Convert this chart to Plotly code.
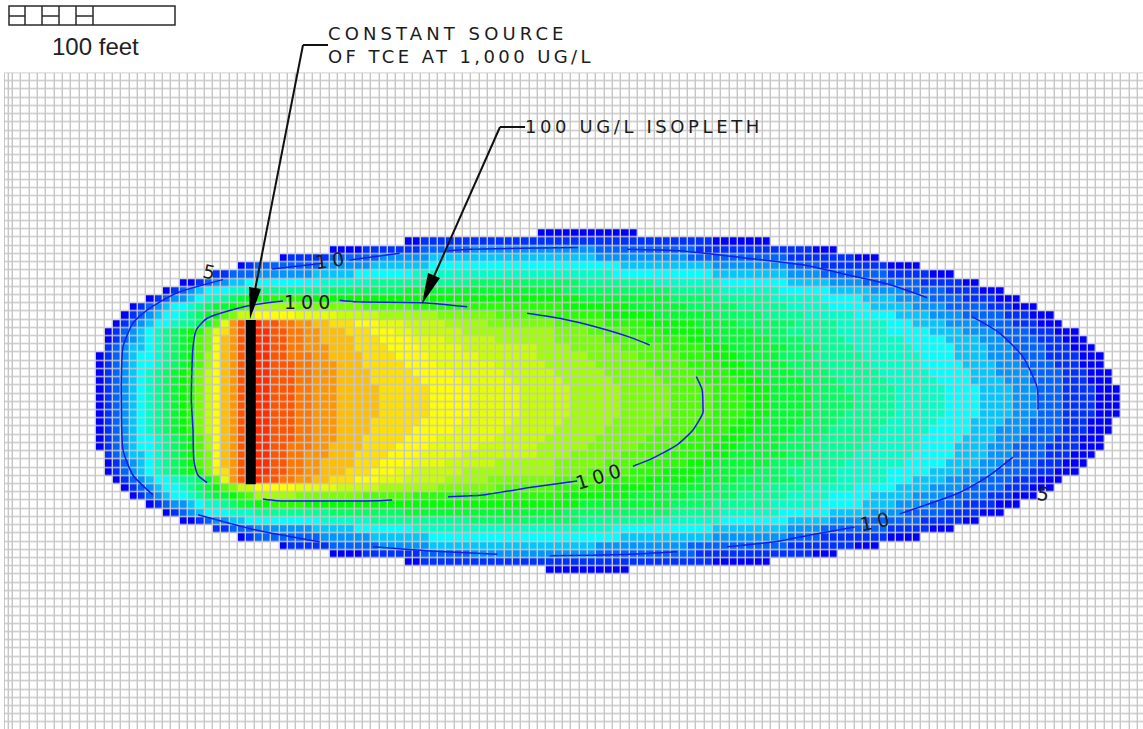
import plotly.graph_objects as go

# Grid: column and row edges, in model cells (1 cell = 5 feet)
COLUMN_EDGES = [-0.96, -0.48] + list(range(0, 137))
ROW_EDGES = list(range(0, 81))

# Concentration bands, darkest blue to red
BAND_COLOURS = [
    "rgb(0,0,255)", "rgb(0,50,255)", "rgb(0,100,255)", "rgb(0,150,255)", "rgb(0,200,255)", "rgb(0,255,255)",
    "rgb(0,255,200)", "rgb(0,255,150)", "rgb(0,255,100)", "rgb(0,255,50)", "rgb(0,255,0)", "rgb(40,255,0)",
    "rgb(80,255,0)", "rgb(120,255,0)", "rgb(160,255,0)", "rgb(200,255,0)", "rgb(230,255,0)", "rgb(255,255,0)",
    "rgb(255,225,0)", "rgb(255,190,0)", "rgb(255,150,0)", "rgb(255,120,0)", "rgb(255,85,0)", "rgb(255,45,0)",
]

# Upper half of the plume, rows 19-39: column at which each band begins
BAND_START = [
    [63],
    [47, 49],
    [38, 42, 49, 55],
    [32, 33, 38, 44, 50],
    [27, 28, 29, 37, 43, 50],
    [24, 24, 26, 29, 36, 41, 48],
    [20, 22, 23, 24, 26, 28, 37, 43, 55],
    [18, 19, 20, 21, 22, 23, 26, 29, 38, 47],
    [16, 17, 18, 19, 21, 22, 23, 25, 26, 27, 29, 31],
    [14, 15, 16, 17, 18, 19, 21, 22, 23, 24, 26, 27, 28, 29, 29],
    [13, 14, 15, 16, 17, 18, 20, 21, 22, 23, 24, 25, 25, 26, 27, 27, 29, 29],
    [12, 13, 14, 15, 16, 17, 19, 20, 22, 23, 24, 24, 24, 25, 25, 25, 25, 26, 26, 26, 26, 27, 27, 28],
    [11, 12, 13, 14, 15, 16, 17, 18, 19, 20, 21, 22, 23, 23, 24, 24, 24, 25, 25, 26, 26, 27, 27, 28],
    [11, 12, 13, 14, 15, 16, 17, 18, 19, 20, 21, 22, 22, 23, 24, 24, 24, 24, 25, 25, 26, 27, 27, 28],
    [11, 11, 12, 13, 14, 16, 17, 18, 19, 20, 21, 22, 22, 23, 24, 24, 24, 24, 25, 25, 26, 27, 27, 28],
    [10, 11, 12, 13, 14, 15, 17, 18, 19, 20, 21, 22, 22, 23, 23, 24, 24, 24, 25, 25, 26, 27, 27, 28],
    [10, 11, 12, 13, 14, 15, 17, 18, 19, 20, 21, 22, 22, 23, 23, 24, 24, 24, 25, 25, 26, 27, 27, 28],
    [10, 11, 12, 13, 14, 15, 16, 17, 18, 19, 20, 21, 22, 22, 23, 23, 24, 24, 25, 25, 26, 27, 27, 28],
    [10, 11, 12, 13, 14, 15, 16, 17, 18, 19, 20, 21, 22, 22, 23, 23, 24, 24, 25, 25, 26, 27, 27, 28],
    [10, 11, 12, 13, 14, 15, 16, 17, 18, 19, 20, 21, 22, 22, 23, 23, 24, 24, 25, 25, 26, 27, 27, 28],
    [10, 11, 12, 13, 14, 15, 16, 17, 18, 19, 20, 21, 22, 22, 23, 23, 24, 24, 25, 25, 26, 27, 27, 28],
]

# Same rows: column at which each band ends
BAND_END = [
    [75],
    [91, 84],
    [99, 96, 82, 70],
    [104, 101, 93, 81, 70],
    [109, 105, 97, 93, 84, 73],
    [113, 110, 105, 97, 93, 84, 72],
    [116, 114, 109, 102, 98, 93, 85, 77, 68],
    [119, 116, 112, 107, 103, 98, 92, 85, 79, 66],
    [121, 118, 114, 110, 106, 102, 97, 91, 84, 79, 68, 35],
    [123, 120, 117, 112, 108, 103, 98, 93, 87, 81, 74, 66, 48, 42, 34],
    [125, 122, 119, 114, 110, 106, 101, 95, 90, 84, 77, 71, 65, 58, 51, 44, 39, 34],
    [126, 123, 120, 116, 112, 108, 105, 99, 94, 87, 82, 76, 71, 65, 57, 52, 47, 44, 41, 38, 36, 34, 32, 30],
    [128, 125, 122, 118, 114, 110, 105, 99, 93, 89, 83, 78, 74, 69, 65, 54, 48, 46, 43, 40, 37, 35, 33, 31],
    [129, 126, 123, 119, 116, 112, 107, 100, 95, 91, 84, 81, 76, 71, 65, 58, 52, 48, 44, 41, 37, 35, 33, 31],
    [130, 127, 124, 120, 117, 113, 108, 101, 97, 93, 86, 83, 78, 73, 67, 63, 54, 49, 45, 41, 38, 35, 33, 31],
    [131, 128, 124, 120, 117, 113, 109, 102, 96, 92, 87, 84, 80, 75, 69, 63, 56, 50, 46, 42, 38, 36, 33, 31],
    [131, 128, 125, 121, 118, 114, 109, 103, 97, 93, 88, 85, 81, 76, 70, 64, 58, 51, 47, 42, 39, 36, 34, 31],
    [132, 129, 126, 122, 118, 115, 110, 104, 98, 94, 89, 86, 82, 77, 71, 65, 59, 53, 48, 43, 39, 36, 34, 31],
    [132, 129, 126, 122, 119, 115, 111, 105, 99, 95, 90, 87, 83, 78, 72, 66, 60, 54, 49, 43, 39, 36, 34, 31],
    [133, 130, 126, 123, 120, 116, 112, 106, 100, 96, 91, 88, 84, 79, 73, 67, 61, 55, 50, 44, 39, 36, 34, 31],
    [133, 130, 126, 123, 120, 116, 112, 106, 101, 96, 91, 88, 84, 79, 73, 67, 61, 55, 50, 44, 39, 36, 34, 31],
]
FIRST_PLUME_ROW = 19
LAST_PLUME_ROW = 60          # the plume is symmetric about the source centre line
LAST_ROW_SPAN = (64, 74)     # the one row that differs from its mirror

SOURCE_COLUMN = (27.93, 29.13)
SOURCE_ROWS = (30, 50)

# Isopleths, broken where the plot left gaps: (columns, rows)
ISOPLETH_100 = [
    ([32.4, 28.1, 23.3, 22.0, 21.6, 21.4, 21.6, 21.7, 22.2, 23.3], [27.7, 28.3, 29.8, 31.2, 33.3, 39.7, 43.4, 47.0, 48.9, 49.8]),
    ([30.0, 31.7, 43.7, 45.5], [51.8, 52.0, 52.0, 51.9]),
    ([39.2, 41.3, 49.2, 54.5], [27.6, 27.8, 27.9, 28.4]),
    ([61.7, 66.0, 70.1, 74.0, 76.4], [29.2, 29.9, 30.9, 32.1, 33.05]),
    ([82.0, 82.7, 82.8, 82.8, 81.6, 79.7, 76.4, 74.4], [36.9, 38.5, 40.6, 41.3, 43.4, 45.2, 47.0, 47.8]),
    ([67.7, 62.0, 56.4, 52.2], [49.6, 50.4, 51.3, 51.5]),
]
ISOPLETH_10 = [
    ([31.1, 37.2], [23.8, 23.1]),
    ([40.4, 46.4], [22.7, 21.9]),
    ([52.1, 54.8, 67.8], [21.6, 21.4, 21.2]),
    ([73.7, 80.0, 89.0, 94.8, 100.1, 105.2, 109.7], [21.4, 21.6, 22.6, 23.3, 24.5, 25.7, 27.3]),
    ([115.1, 118.4, 121.2, 122.9, 123.0], [29.6, 31.6, 34.5, 38.2, 40.9]),
    ([120.0, 117.2, 113.6, 106.4], [46.7, 48.9, 51.0, 53.6]),
    ([101.0, 96.0, 92.0, 85.7], [55.2, 56.1, 56.9, 57.6]),
    ([79.7, 74.0, 64.4], [58.2, 58.5, 58.7]),
    ([58.1, 50.0, 43.2], [58.5, 58.1, 57.6]),
    ([36.8, 29.3, 22.2], [57.0, 55.6, 53.7]),
    ([16.8, 14.4, 13.2, 13.0, 13.0, 13.2, 14.4, 16.1, 19.7, 25.2], [51.3, 48.9, 45.8, 39.7, 37.3, 33.3, 30.4, 28.8, 26.7, 25.1]),
]

CONTOUR_LABELS = ["5", "10", "100", "100", "10", "5"]
CONTOUR_LABEL_PLACES = [(211, 272, 12), (332, 260, -8), (309, 302, 0), (600, 476, -17), (877, 521, -12), (1045, 494, 10)]

WIDTH, HEIGHT = 1143, 729
GRID_LEFT_PX, GRID_TOP_PX = 4.0, 72.5
CELL_W, CELL_H = 8.333, 8.22
ORIGIN_X_PX, ORIGIN_Y_PX = 13.0, 73.3


def fx(p):
    return p / WIDTH


def fy(p):
    return 1 - p / HEIGHT


n_rows = len(ROW_EDGES) - 1
n_cols = len(COLUMN_EDGES) - 1
z = [[-1] * n_cols for _ in range(n_rows)]


def paint(row, starts, ends):
    for band, (a, b) in enumerate(zip(starts, ends)):
        for col in range(a, b):
            z[row][col + 2] = band


for i, (starts, ends) in enumerate(zip(BAND_START, BAND_END)):
    paint(FIRST_PLUME_ROW + i, starts, ends)
    mirror = LAST_PLUME_ROW - i
    if mirror == LAST_PLUME_ROW:
        paint(mirror, [LAST_ROW_SPAN[0]], [LAST_ROW_SPAN[1]])
    else:
        paint(mirror, starts, ends)

zmax = len(BAND_COLOURS) - 1
span = zmax + 1
colorscale = [[0, "#ffffff"], [0.999 / span, "#ffffff"]]
colorscale += [[(b + 1) / span, c] for b, c in enumerate(BAND_COLOURS)]

fig = go.Figure()
fig.add_trace(go.Heatmap(
    x=COLUMN_EDGES, y=ROW_EDGES, z=z, zmin=-1, zmax=zmax, colorscale=colorscale,
    showscale=False, xgap=1.4, ygap=1.4, hoverinfo="skip",
))
for cols, rows in ISOPLETH_100 + ISOPLETH_10:
    fig.add_trace(go.Scatter(x=cols, y=rows, mode="lines", showlegend=False, hoverinfo="skip",
                             line=dict(color="rgb(20,30,235)", width=1.5, shape="spline", smoothing=0.6)))

shapes = [dict(type="rect", xref="x", yref="y", x0=SOURCE_COLUMN[0], x1=SOURCE_COLUMN[1],
               y0=SOURCE_ROWS[0], y1=SOURCE_ROWS[1], fillcolor="#000000", line_width=0, layer="above")]


def seg(x0, y0, x1, y1, w=1.5, c="#2a2a2a"):
    return dict(type="line", xref="paper", yref="paper", x0=fx(x0), y0=fy(y0), x1=fx(x1), y1=fy(y1),
                line=dict(color=c, width=w), layer="above")


# Scale bar
shapes.append(dict(type="rect", xref="paper", yref="paper", x0=fx(9), x1=fx(175), y0=fy(6), y1=fy(25),
                   line=dict(color="#2a2a2a", width=1.5), layer="above"))
for xp in (25, 42, 59, 76, 93):
    shapes.append(seg(xp, 6, xp, 25))
for a, b in ((9, 25), (42, 59), (76, 93)):
    shapes.append(seg(a, 16, b, 16))

# Leaders
shapes += [seg(328, 45, 303, 45, 2, "#111111"), seg(303, 45, 255, 290, 2, "#111111"),
           seg(525, 127, 500, 127, 2, "#111111"), seg(500, 127, 431, 283, 2, "#111111")]


def triangle(pts):
    path = "M " + " L ".join(f"{fx(x):.5f} {fy(y):.5f}" for x, y in pts) + " Z"
    return dict(type="path", xref="paper", yref="paper", path=path, fillcolor="#000000", line_width=0, layer="above")


shapes += [triangle([(250, 319), (249, 287), (261, 289)]), triangle([(422, 304), (428, 273), (440, 278)])]

annotations = []


def text(x, y, s, size=18, angle=0, anchor="center", family="Liberation Sans", spacing=0, color="#1c1c1c"):
    if spacing:
        s = f'<span style="letter-spacing:{spacing}px">{s}</span>'
    annotations.append(dict(xref="paper", yref="paper", x=fx(x), y=fy(y), text=s, showarrow=False, textangle=angle,
                            xanchor=anchor, yanchor="middle", align="left",
                            font=dict(family=family, size=size, color=color)))


text(95, 47, "100 feet", size=24, color="#222222")
text(326, 33, "CONSTANT SOURCE", size=18, anchor="left", spacing=4.1, family="DejaVu Sans")
text(326, 57, "OF TCE AT 1,000 UG/L", size=18, anchor="left", spacing=3.4, family="DejaVu Sans")
text(523, 126, "100 UG/L ISOPLETH", size=18, anchor="left", spacing=3.6, family="DejaVu Sans")
for label, (x, y, angle) in zip(CONTOUR_LABELS, CONTOUR_LABEL_PLACES):
    text(x, y, label, size=19, angle=angle, spacing=5, family="DejaVu Sans")

x_at_left = (GRID_LEFT_PX - ORIGIN_X_PX) / CELL_W
x_at_right = (WIDTH - ORIGIN_X_PX) / CELL_W
y_at_top = (GRID_TOP_PX - ORIGIN_Y_PX) / CELL_H
y_at_bottom = (HEIGHT - ORIGIN_Y_PX) / CELL_H

fig.update_layout(
    width=WIDTH, height=HEIGHT, autosize=False, margin=dict(l=0, r=0, t=0, b=0, pad=0),
    paper_bgcolor="#ffffff", plot_bgcolor="#c6c6c6", showlegend=False,
    xaxis=dict(range=[x_at_left, x_at_right], domain=[GRID_LEFT_PX / WIDTH, 1], visible=False, fixedrange=True),
    yaxis=dict(range=[y_at_bottom, y_at_top], domain=[0, 1 - GRID_TOP_PX / HEIGHT], visible=False, fixedrange=True),
    shapes=shapes, annotations=annotations,
)
fig.write_html("out.html", config=dict(displayModeBar=False),
               post_script="document.body.style.margin='0';document.documentElement.style.overflow='hidden';")
